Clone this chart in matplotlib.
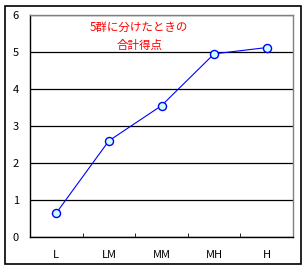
import matplotlib
matplotlib.use("Agg")
import matplotlib.pyplot as plt
from matplotlib.patches import Rectangle

plt.rcParams['font.family'] = ['Noto Sans CJK JP', 'DejaVu Sans']

groups = ['L', 'LM', 'MM', 'MH', 'H']
scores = [0.65, 2.6, 3.55, 4.95, 5.12]
yticks = [0, 1, 2, 3, 4, 5, 6]
title = '5群に分けたときの\n合計得点'

W, H = 306, 269
fig = plt.figure(figsize=(W / 100, H / 100), dpi=100)

# outer frame
fig.patches.append(Rectangle((4.5 / W, 5.5 / H), 296 / W, 258 / H,
                             transform=fig.transFigure, fill=False,
                             edgecolor='black', linewidth=1.2))

ax = fig.add_axes([30 / W, (H - 237) / H, 263 / W, 222 / H])
x = range(len(groups))
ax.plot(x, scores, color='blue', linewidth=0.8, marker='o', markersize=5.8,
        markerfacecolor='#ccffff', markeredgecolor='blue', markeredgewidth=1.0,
        zorder=3)

ax.set_xlim(-0.5, len(groups) - 0.5)
ax.set_ylim(0, 6)
ax.set_yticks(yticks)
ax.set_xticks(list(x))
ax.set_xticklabels(groups)
ax.set_xticks([i + 0.5 for i in range(len(groups) - 1)], minor=True)
ax.tick_params(axis='x', which='major', length=0, pad=9, labelsize=8)
ax.tick_params(axis='x', which='minor', length=3, direction='in', color='black')
ax.tick_params(axis='y', length=0, pad=8, labelsize=8)

ax.grid(axis='y', color='black', linewidth=0.9)
ax.set_axisbelow(True)
for s in ['top', 'right']:
    ax.spines[s].set_color('gray')
    ax.spines[s].set_linewidth(1.0)
for s in ['left', 'bottom']:
    ax.spines[s].set_color('black')
    ax.spines[s].set_linewidth(1.0)

ax.text(0.415, 0.975, title, transform=ax.transAxes, color='red',
        fontsize=8.3, ha='center', va='top', linespacing=1.55)

fig.savefig('out.png', dpi=100)
